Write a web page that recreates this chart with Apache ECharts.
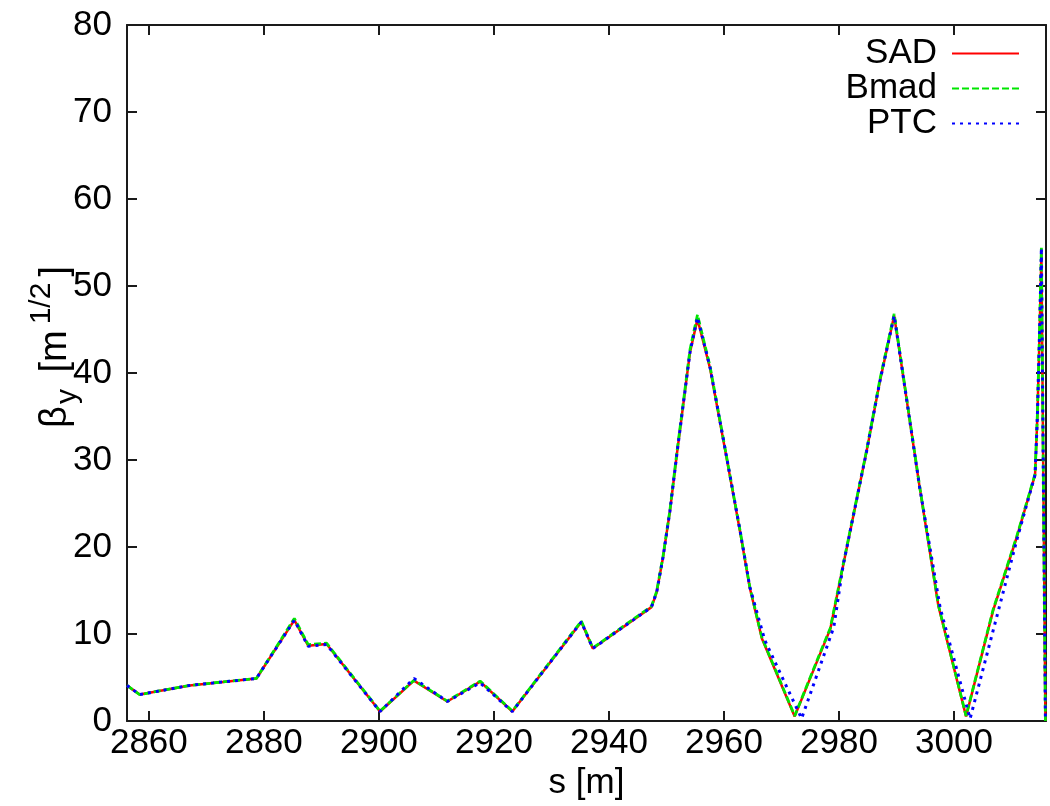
<!DOCTYPE html>
<html>
<head>
<meta charset="utf-8">
<script src="https://cdn.jsdelivr.net/npm/echarts@6/dist/echarts.min.js"></script>
<style>
  html, body { margin: 0; padding: 0; background: #ffffff; overflow: hidden; }
  #chart { width: 1050px; height: 806px; display: block; }
</style>
</head>
<body>
<div id="chart"></div>
<script>
// ---- data ----
const seriesNames = ['SAD', 'Bmad', 'PTC'];

const sSAD = [2856.2, 2858.4, 2867.1, 2878.7, 2885.3, 2887.7, 2890.9, 2900.2, 2906.1, 2911.9,
  2917.6, 2923.2, 2935.2, 2937.2, 2947.4, 2948.3, 2949.4, 2950.6, 2951.8, 2953.2,
  2954.1, 2955.4, 2957.6, 2959.3, 2961.0, 2962.8, 2964.5, 2966.6, 2972.3, 2976.7,
  2978.5, 2980.7, 2984.8, 2987.1, 2989.6, 2994.0, 2997.3, 3002.1, 3006.8, 3010.9,
  3014.1, 3014.5, 3014.9, 3015.2, 3015.9];
const betaSAD = [4.1, 3.05, 4.1, 4.9, 11.6, 8.66, 8.85, 1.1, 4.65, 2.25,
  4.54, 1.1, 11.4, 8.35, 13.1, 14.8, 18.8, 24.1, 30.6, 37.8,
  42.4, 46.2, 40.5, 34.4, 28.3, 21.8, 15.3, 9.5, 0.54, 7.7,
  10.6, 17.8, 31.0, 39.0, 46.6, 27.0, 13.2, 0.54, 12.7, 21.1,
  28.3, 35.0, 45.0, 53.8, 0.0];

const sBmad = [2856.2, 2858.4, 2867.1, 2878.7, 2885.3, 2887.7, 2890.9, 2900.2, 2906.1, 2911.9,
  2917.6, 2923.2, 2935.2, 2937.2, 2947.4, 2948.3, 2949.4, 2950.6, 2951.8, 2953.2,
  2954.1, 2955.4, 2957.6, 2959.3, 2961.0, 2962.8, 2964.5, 2966.6, 2972.3, 2976.7,
  2978.5, 2980.7, 2984.8, 2987.1, 2989.6, 2994.0, 2997.3, 3002.1, 3006.8, 3010.9,
  3014.1, 3014.5, 3014.9, 3015.2, 3015.9];
const betaBmad = [4.1, 3.05, 4.1, 4.9, 11.8, 8.8, 8.95, 1.15, 4.7, 2.3,
  4.6, 1.15, 11.5, 8.4, 13.2, 14.9, 18.9, 24.2, 30.8, 38.0,
  42.7, 46.7, 40.7, 34.6, 28.4, 21.9, 15.4, 9.6, 0.6, 7.8,
  10.7, 17.9, 31.1, 39.2, 46.8, 27.1, 13.3, 0.6, 12.8, 21.2,
  28.4, 35.2, 45.5, 54.4, 0.0];

const sPTC = [2856.2, 2858.4, 2867.1, 2878.7, 2885.3, 2887.7, 2890.9, 2900.2, 2906.1, 2911.9,
  2917.6, 2923.2, 2935.2, 2937.2, 2947.4, 2948.3, 2949.4, 2950.6, 2951.8, 2953.2,
  2954.1, 2955.4, 2957.6, 2959.3, 2961.0, 2962.8, 2964.5, 2967.1, 2973.5, 2979.1,
  2980.7, 2984.8, 2987.1, 2989.6, 2994.0, 2997.6, 3002.8, 3011.0,
  3014.1, 3014.5, 3014.9, 3015.2, 3015.9];
const betaPTC = [4.1, 3.05, 4.1, 4.9, 11.6, 8.6, 8.8, 1.1, 4.9, 2.25,
  4.4, 1.1, 11.4, 8.35, 13.1, 14.8, 18.8, 24.1, 30.6, 37.8,
  42.4, 46.4, 40.6, 34.5, 28.4, 21.9, 15.4, 9.3, 0.3, 10.8,
  17.8, 31.0, 39.0, 46.6, 27.0, 13.0, 0.27, 21.0,
  28.3, 35.0, 45.0, 54.4, 0.0];

const xTicks = [2860, 2880, 2900, 2920, 2940, 2960, 2980, 3000];
const yTicks = [0, 10, 20, 30, 40, 50, 60, 70, 80];
const xRange = [2856.2, 3016];
const yRange = [0, 80];
const xTitle = 's [m]';
const yTitleParts = [
  { t: 'β', kind: 'main' },
  { t: 'y', kind: 'sub' },
  { t: ' [m', kind: 'main' },
  { t: '1/2', kind: 'sup' },
  { t: ']', kind: 'main' }
];

// ---- build ----
const FONT = '"Liberation Sans", Arial, Helvetica, sans-serif';
const AX = '#1a1a1a';
const FS = 35;
function pairs(xs, ys) { return xs.map((x, i) => [x, ys[i]]); }

const chart = echarts.init(document.getElementById('chart'), null, { renderer: 'canvas' });

// y-axis title built from rotated text pieces (sub/superscripts)
const cv = document.createElement('canvas').getContext('2d');
function tw(t, size) { cv.font = size + 'px ' + FONT; return cv.measureText(t).width; }
const MAIN = 38, SMALL = 30;
const gapBefore = { sub: 2, sup: 6 };
const gapAfter = { sub: 6, sup: 6 };
let total = 0;
yTitleParts.forEach(p => {
  p.size = p.kind === 'main' ? MAIN : SMALL;
  p.pre = gapBefore[p.kind] || 0;
  p.w = tw(p.t, p.size);
  total += p.pre + p.w + (gapAfter[p.kind] || 0);
});
let cx = -total / 2;
const titleChildren = yTitleParts.map(p => {
  let off = 0;
  if (p.kind === 'sub') off = 10;
  if (p.kind === 'sup') off = -16;
  cx += p.pre;
  const el = {
    type: 'text',
    x: cx, y: -0.3 * p.size + off,
    style: {
      text: p.t, fill: '#000', font: p.size + 'px ' + FONT,
      textAlign: 'left', textVerticalAlign: 'middle', align: 'left', verticalAlign: 'middle'
    }
  };
  cx += p.w + (gapAfter[p.kind] || 0);
  return el;
});

const option = {
  animation: false,
  backgroundColor: '#ffffff',
  grid: { left: 127, right: 4, top: 25, bottom: 82, containLabel: false },
  legend: {
    orient: 'vertical',
    right: 25, top: 31,
    align: 'right',
    itemWidth: 67, itemHeight: 14, itemGap: 0,
    itemStyle: { opacity: 0 },
    textStyle: { fontSize: FS, fontFamily: FONT, color: '#000', lineHeight: 35, padding: [0, 10, 0, 0] },
    data: seriesNames
  },
  xAxis: [
    {
      type: 'value', position: 'bottom', min: xRange[0], max: xRange[1],
      name: xTitle, nameLocation: 'middle', nameGap: 44,
      nameTextStyle: { fontSize: FS, fontFamily: FONT, color: '#000' },
      axisLine: { show: true, onZero: false, lineStyle: { color: AX, width: 2 } },
      axisTick: { show: true, inside: true, length: 10, customValues: xTicks, lineStyle: { color: AX, width: 2 } },
      axisLabel: { show: true, customValues: xTicks, fontSize: FS, fontFamily: FONT, color: '#000', margin: 5,
        formatter: v => String(Math.round(v)) },
      splitLine: { show: false }
    },
    {
      type: 'value', position: 'top', min: xRange[0], max: xRange[1],
      axisLine: { show: true, onZero: false, lineStyle: { color: AX, width: 2 } },
      axisTick: { show: true, inside: true, length: 10, customValues: xTicks, lineStyle: { color: AX, width: 2 } },
      axisLabel: { show: false },
      splitLine: { show: false }
    }
  ],
  yAxis: [
    {
      type: 'value', position: 'left', min: yRange[0], max: yRange[1], interval: 10,
      axisLine: { show: true, onZero: false, lineStyle: { color: AX, width: 2 } },
      axisTick: { show: true, inside: true, length: 10, lineStyle: { color: AX, width: 2 } },
      axisLabel: { show: true, fontSize: FS, fontFamily: FONT, color: '#000', margin: 15,
        formatter: v => String(v) },
      splitLine: { show: false }
    },
    {
      type: 'value', position: 'right', min: yRange[0], max: yRange[1], interval: 10,
      axisLine: { show: true, onZero: false, lineStyle: { color: AX, width: 2 } },
      axisTick: { show: true, inside: true, length: 10, lineStyle: { color: AX, width: 2 } },
      axisLabel: { show: false },
      splitLine: { show: false }
    }
  ],
  graphic: [
    { type: 'group', x: 67, y: 347, rotation: Math.PI / 2, children: titleChildren }
  ],
  series: [
    {
      name: 'SAD', type: 'line', data: pairs(sSAD, betaSAD), showSymbol: false, symbol: 'none',
      lineStyle: { color: '#ff0000', width: 2.5, type: 'solid' }, itemStyle: { color: '#ff0000' }, z: 2
    },
    {
      name: 'Bmad', type: 'line', data: pairs(sBmad, betaBmad), showSymbol: false, symbol: 'none',
      lineStyle: { color: '#00e600', width: 2.8, type: [7, 3] }, itemStyle: { color: '#00e600' }, z: 3
    },
    {
      name: 'PTC', type: 'line', data: pairs(sPTC, betaPTC), showSymbol: false, symbol: 'none',
      lineStyle: { color: '#0000ff', width: 3, type: [3, 5] }, itemStyle: { color: '#0000ff' }, z: 4
    }
  ]
};
chart.setOption(option);
</script>
</body>
</html>
